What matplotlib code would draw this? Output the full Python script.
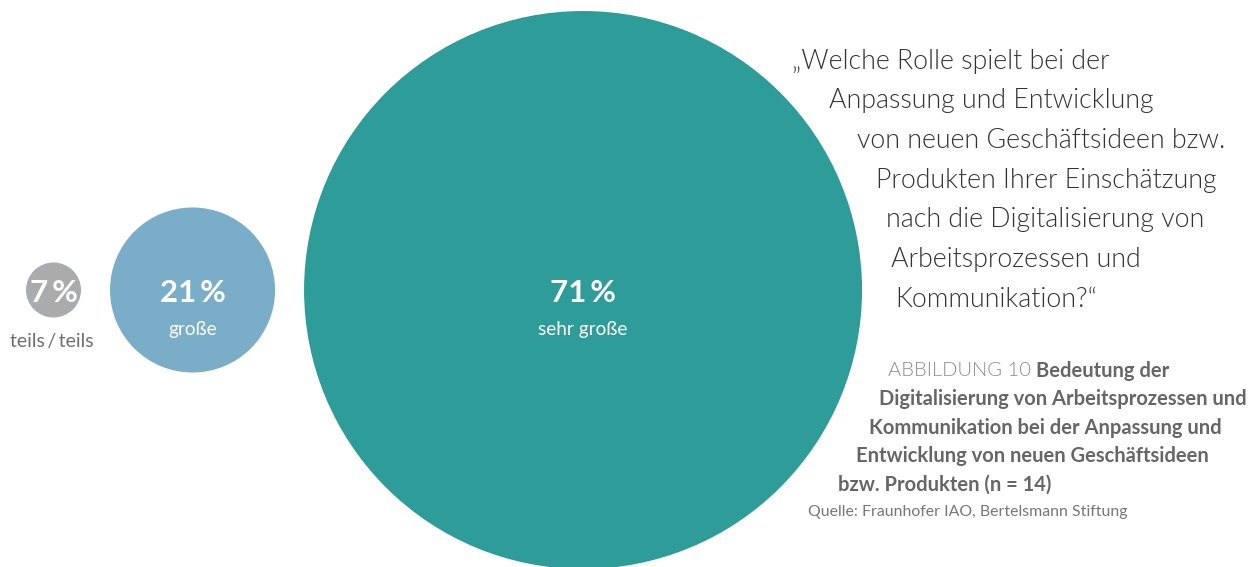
import matplotlib.pyplot as plt
from matplotlib.patches import Circle
from matplotlib import font_manager as fm

plt.rcParams['font.family'] = ['Lato', 'DejaVu Sans']

# data
values = [7, 21, 71]
labels = ['teils\u2009/\u2009teils', 'große', 'sehr große']
colors = ['#a9acae', '#79adc8', '#2e9c98']

question = [
    '\u201eWelche Rolle spielt bei der',
    'Anpassung und Entwicklung',
    'von neuen Geschäftsideen bzw.',
    'Produkten Ihrer Einschätzung',
    'nach die Digitalisierung von',
    'Arbeitsprozessen und',
    'Kommunikation?\u201c',
]
caption = [
    'Digitalisierung von Arbeitsprozessen und',
    'Kommunikation bei der Anpassung und',
    'Entwicklung von neuen Geschäftsideen',
    'bzw. Produkten (n = 14)',
]
source = 'Quelle: Fraunhofer IAO, Bertelsmann Stiftung'


def light_font(size):
    # look for a real Lato Light file (not Hairline/Thin)
    for f in fm.findSystemFonts():
        name = f.lower().split('/')[-1]
        if 'lato' in name and 'light' in name and 'italic' not in name \
                and 'hairline' not in name and 'thin' not in name:
            return fm.FontProperties(fname=f, size=size)
    return fm.FontProperties(family='Lato', weight='normal', size=size)


W, H = 1258, 567
fig = plt.figure(figsize=(W / 100, H / 100), dpi=100)
ax = fig.add_axes([0, 0, 1, 1])
ax.set_xlim(0, W)
ax.set_ylim(H, 0)
ax.axis('off')

# bubbles: radius proportional to value, placed side by side
scale = 279 / 71
gap = 29
cy = 290
x = 26
for v, lab, c in zip(values, labels, colors):
    r = v * scale
    cx = x + r
    ax.add_patch(Circle((cx, cy), r, color=c, lw=0))
    ax.text(cx, cy + 3, f'{v}\u2009%', ha='center', va='center', color='white',
            fontsize=22.5, fontweight='bold')
    if r > 40:
        ax.text(cx, cy + 39, lab, ha='center', va='center', color='white', fontsize=13.7)
    else:
        ax.text(cx - 1.5, cy + r + 24, lab, ha='center', va='center', color='#6f6f6f', fontsize=14)
    x = cx + r + gap

# question text following the curve of the big circle
q_x = [792, 829, 857, 876, 886, 891, 895]
qfont = light_font(19.3)
for i, (line, lx) in enumerate(zip(question, q_x)):
    ax.text(lx, 61 + i * 39.7, line, ha='left', va='center', color='#333333',
            fontproperties=qfont)

# caption
t1 = ax.text(888, 371, 'ABBILDUNG 10 ', ha='left', va='center', color='#8a8a8a',
             fontproperties=light_font(14.5))
ax.annotate('Bedeutung der', xy=(1, 0.5), xycoords=t1, ha='left', va='center',
            color='#666666', fontsize=14.5, fontweight='bold')
c_x = [879, 869, 856, 838]
for i, (line, lx) in enumerate(zip(caption, c_x)):
    ax.text(lx, 399 + i * 28.5, line, ha='left', va='center', color='#666666',
            fontsize=14.5, fontweight='bold')
ax.text(808, 512, source, ha='left', va='center', color='#777777', fontsize=11.4)

fig.savefig('out.png', dpi=100)
